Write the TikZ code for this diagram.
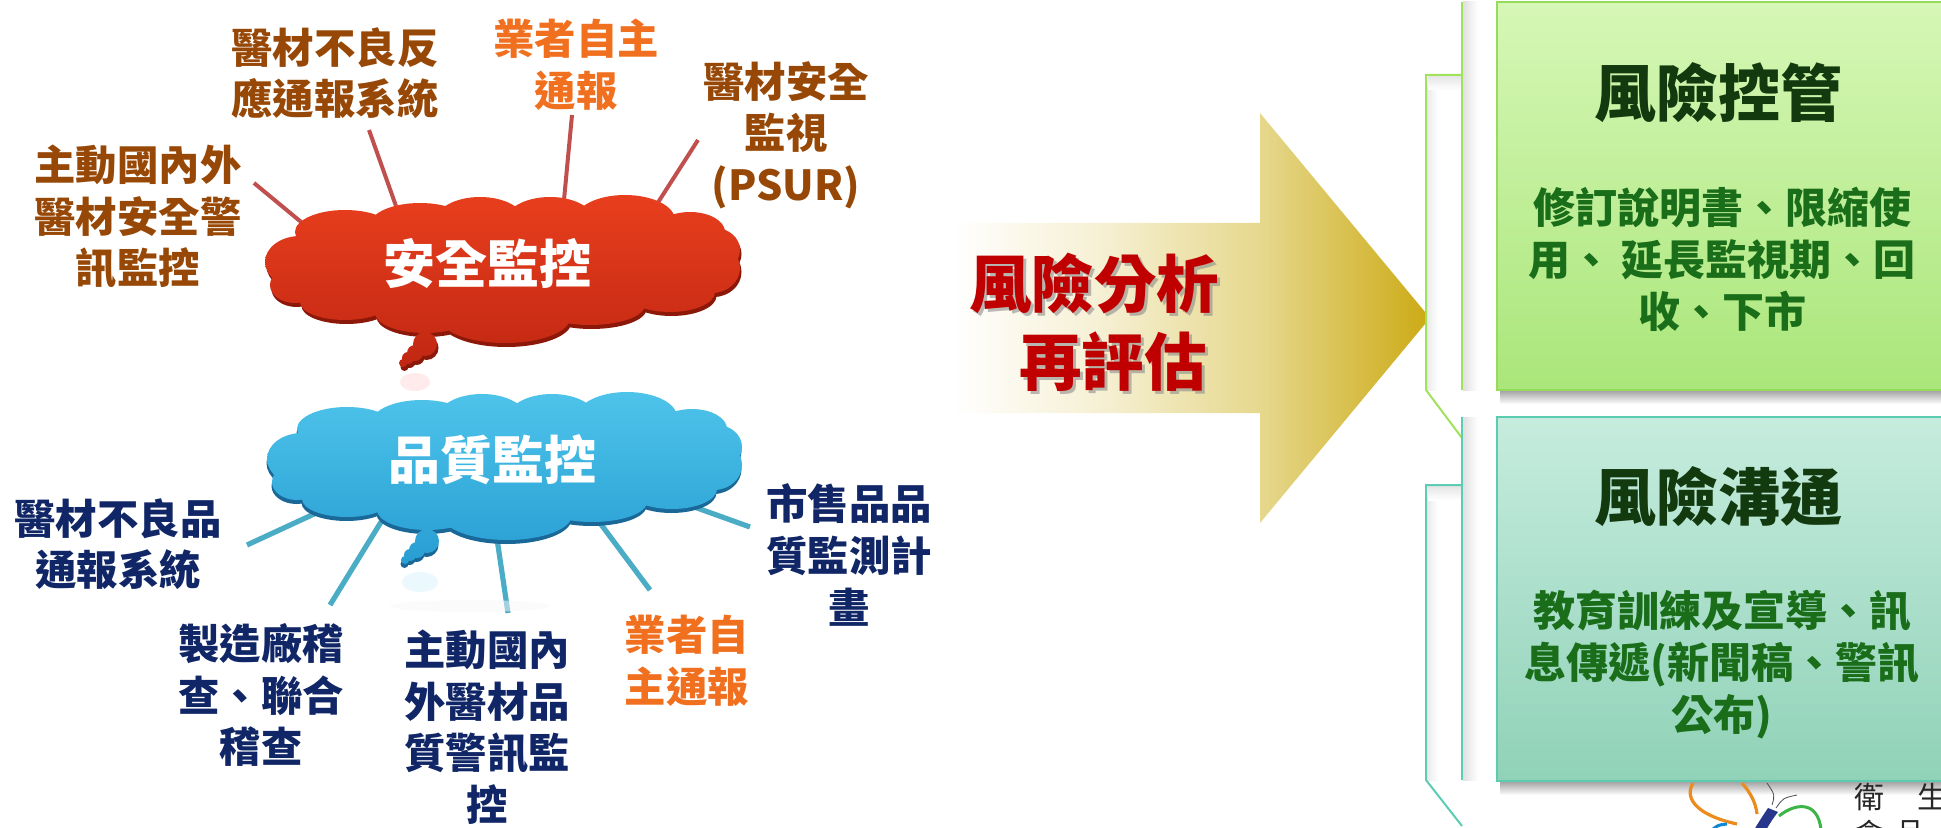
\documentclass[tikz,border=0pt]{standalone}
\usepackage{fontspec}
\setmainfont{Noto Sans CJK TC}
\usetikzlibrary{calc}

\definecolor{labelbrown}{RGB}{151,72,6}
\definecolor{labelorange}{RGB}{240,112,32}
\definecolor{labelnavy}{RGB}{16,38,102}
\definecolor{linkred}{RGB}{192,80,77}
\definecolor{linkblue}{RGB}{75,172,198}
\definecolor{cloudredtop}{RGB}{234,64,30}
\definecolor{cloudredbot}{RGB}{192,38,18}
\definecolor{cloudredrim}{RGB}{140,24,10}
\definecolor{cloudbluetop}{RGB}{80,198,236}
\definecolor{cloudbluebot}{RGB}{38,156,210}
\definecolor{cloudbluerim}{RGB}{26,104,152}
\definecolor{arrowcream}{RGB}{246,240,212}
\definecolor{arrowbeige}{RGB}{230,216,142}
\definecolor{arrowgold}{RGB}{204,170,20}
\definecolor{arrowred}{RGB}{192,0,0}
\definecolor{boxgreentop}{RGB}{214,247,182}
\definecolor{boxgreenbot}{RGB}{170,230,122}
\definecolor{boxgreenedge}{RGB}{150,220,90}
\definecolor{boxtealtop}{RGB}{198,236,222}
\definecolor{boxtealbot}{RGB}{144,210,184}
\definecolor{boxtealedge}{RGB}{92,204,176}
\definecolor{titlegreen}{RGB}{18,58,14}
\definecolor{bodygreen}{RGB}{26,110,26}
\definecolor{bracketgreen}{RGB}{160,226,90}
\definecolor{bracketteal}{RGB}{92,204,180}
\definecolor{logoorange}{RGB}{235,140,30}
\definecolor{logogreen}{RGB}{60,180,70}
\definecolor{logoblue}{RGB}{40,55,140}

% horizontal gradient of the big arrow: white shaft fading into gold tip
\pgfdeclarehorizontalshading{goldarrow}{100bp}{color(0bp)=(white); color(25bp)=(white); color(33bp)=(white); color(46bp)=(arrowcream); color(60bp)=(arrowbeige); color(75bp)=(arrowgold); color(100bp)=(arrowgold)}

% puffs that together make one cloud outline
\def\cloudpuffs{%
 (500,268) ellipse [x radius=200, y radius=58]
 (300,262) ellipse [x radius=35, y radius=26]
 (295,285) ellipse [x radius=25, y radius=18]
 (345,302) ellipse [x radius=45, y radius=18]
 (425,313) ellipse [x radius=50, y radius=20]
 (505,318) ellipse [x radius=65, y radius=25]
 (590,305) ellipse [x radius=55, y radius=20]
 (670,292) ellipse [x radius=45, y radius=20]
 (712,268) ellipse [x radius=28, y radius=25]
 (715,250) ellipse [x radius=25, y radius=22]
 (690,232) ellipse [x radius=35, y radius=20]
 (625,220) ellipse [x radius=50, y radius=25]
 (550,222) ellipse [x radius=45, y radius=25]
 (480,222) ellipse [x radius=45, y radius=25]
 (420,225) ellipse [x radius=50, y radius=22]
 (345,232) ellipse [x radius=50, y radius=22]
}
% small bubbles trailing below a cloud
\def\cloudtail{%
 (425,344) circle [radius=12]
 (415,353) circle [radius=8]
 (408,358) circle [radius=6]
 (403,363) circle [radius=4]
}

\begin{document}
\begin{tikzpicture}[x=0.5pt,y=-0.5pt,
  lbl/.style={inner sep=0pt, align=center, font=\fontsize{20.7pt}{25.8pt}\selectfont\bfseries},
  brownlbl/.style={lbl, text=labelbrown},
  orangelbl/.style={lbl, text=labelorange},
  navylbl/.style={lbl, text=labelnavy},
  cloudtext/.style={inner sep=0pt, text=white, font=\fontsize{26pt}{30pt}\selectfont\bfseries},
  redlink/.style={draw=linkred, line width=2pt},
  bluelink/.style={draw=linkblue, line width=2.6pt},
  arrowtext/.style={inner sep=0pt, align=center, font=\fontsize{31.25pt}{39pt}\selectfont\bfseries},
  greenbox/.style={draw=boxgreenedge, line width=0.9pt, top color=boxgreentop, bottom color=boxgreenbot, minimum width=224pt, minimum height=194pt, inner sep=0pt},
  tealbox/.style={draw=boxtealedge, line width=0.9pt, top color=boxtealtop, bottom color=boxtealbot, minimum width=224pt, minimum height=182pt, inner sep=0pt},
  boxtitle/.style={inner sep=0pt, text=titlegreen, font=\fontsize{31pt}{36pt}\selectfont\bfseries},
  boxbody/.style={inner sep=0pt, align=center, text=bodygreen, font=\fontsize{21pt}{26pt}\selectfont\bfseries},
  bracketg/.style={draw=bracketgreen, line width=1pt},
  brackett/.style={draw=bracketteal, line width=1pt},
  logotext/.style={inner sep=0pt, text=black!85, font=\fontsize{15pt}{18pt}\selectfont}
]
\useasboundingbox (0,0) rectangle (1941,828);
\clip (0,0) rectangle (1941,828);

% ---------- connector end points ----------
\coordinate (r1a) at (254,183); \coordinate (r1b) at (318,236);
\coordinate (r2a) at (369,130); \coordinate (r2b) at (396,206);
\coordinate (r3a) at (572,115); \coordinate (r3b) at (564,200);
\coordinate (r4a) at (698,140); \coordinate (r4b) at (657,204);
\coordinate (b1a) at (247,545); \coordinate (b1b) at (327,508);
\coordinate (b2a) at (330,605); \coordinate (b2b) at (381,522);
\coordinate (b3a) at (508,613); \coordinate (b3b) at (496,532);
\coordinate (b4a) at (650,590); \coordinate (b4b) at (588,507);
\coordinate (b5a) at (750,527); \coordinate (b5b) at (672,499);

\draw[redlink] (r1a) -- (r1b);
\draw[redlink] (r2a) -- (r2b);
\draw[redlink] (r3a) -- (r3b);
\draw[redlink] (r4a) -- (r4b);
\draw[bluelink] (b1a) -- (b1b);
\draw[bluelink] (b2a) -- (b2b);
\draw[bluelink] (b3a) -- (b3b);
\draw[bluelink] (b4a) -- (b4b);
\draw[bluelink] (b5a) -- (b5b);

% ---------- faint reflections under the tails ----------
\fill[red!20, opacity=0.4] (415,382) ellipse [x radius=15, y radius=9];
\fill[cyan!20, opacity=0.4] (420,582) ellipse [x radius=18, y radius=10];
\fill[black!3, opacity=0.5] (470,606) ellipse [x radius=80, y radius=6];

% ---------- red cloud ----------
\begin{scope}[shift={(1.5,4)}]
  \fill[cloudredrim] \cloudpuffs;
  \fill[cloudredrim] \cloudtail;
\end{scope}
\begin{scope}
  \clip \cloudpuffs \cloudtail;
  \shade[top color=cloudredtop, bottom color=cloudredbot] (255,185) rectangle (750,372);
\end{scope}
\node[cloudtext] (safety) at (487,263) {安全監控};

% ---------- blue cloud ----------
\begin{scope}[shift={(1.5,201)}]
  \fill[cloudbluerim] \cloudpuffs;
  \fill[cloudbluerim] \cloudtail;
\end{scope}
\begin{scope}[shift={(2,197)}]
  \clip \cloudpuffs \cloudtail;
  \shade[top color=cloudbluetop, bottom color=cloudbluebot] (255,185) rectangle (750,372);
\end{scope}
\node[cloudtext] (quality) at (492,460) {品質監控};

% ---------- labels round the red cloud ----------
\node[brownlbl] (adverse) at (335,73) {醫材不良反\\應通報系統};
\node[orangelbl] (selfA) at (576,65) {業者自主\\通報};
\node[brownlbl] (psur) at (786,135) {醫材安全\\監視\\(PSUR)};
\node[brownlbl] (alertA) at (138,217) {主動國內外\\醫材安全警\\訊監控};

% ---------- labels round the blue cloud ----------
\node[navylbl] (defect) at (118,544) {醫材不良品\\通報系統};
\node[navylbl] (inspect) at (261,695) {製造廠稽\\查、聯合\\稽查};
\node[navylbl] (alertB) at (487,727) {主動國內\\外醫材品\\質警訊監\\控};
\node[orangelbl] (selfB) at (687,661) {業者自\\主通報};
\node[navylbl] (market) at (849,555) {市售品品\\質監測計\\畫};

% ---------- big arrow ----------
\shade[shading=goldarrow] (860,223) -- (1260,223) -- (1260,113) -- (1430,318)
  -- (1260,523) -- (1260,413) -- (860,413) -- cycle;
\node[arrowtext, text=black!45, opacity=0.6] (analysisshadow) at (1097,325) {風險分析\\\hspace*{19pt}再評估};
\node[arrowtext, text=arrowred] (analysis) at (1094,322) {風險分析\\\hspace*{19pt}再評估};

% ---------- brackets ----------
\shade[left color=black!12, right color=white] (1463,2) rectangle (1478,390);
\shade[left color=black!8, right color=white] (1427,88) rectangle (1438,390);
\shade[top color=black!10, bottom color=white] (1428,76) rectangle (1462,90);
\shade[left color=black!12, right color=white] (1463,417) rectangle (1478,780);
\shade[left color=black!8, right color=white] (1427,497) rectangle (1438,780);
\shade[top color=black!10, bottom color=white] (1428,486) rectangle (1462,500);

\coordinate (g1) at (1462,2);   \coordinate (g2) at (1462,390);
\coordinate (g3) at (1462,75);  \coordinate (g4) at (1426,75);
\coordinate (g5) at (1426,390); \coordinate (g6) at (1462,438);
\coordinate (t1) at (1462,417); \coordinate (t2) at (1462,780);
\coordinate (t3) at (1462,485); \coordinate (t4) at (1426,485);
\coordinate (t5) at (1426,780); \coordinate (t6) at (1462,826);
\draw[bracketg] (g1) -- (g2);
\draw[bracketg] (g3) -- (g4) -- (g5) -- (g6);
\draw[brackett] (t1) -- (t2);
\draw[brackett] (t3) -- (t4) -- (t5) -- (t6);

% ---------- result boxes ----------
\shade[top color=black!35, bottom color=white] (1500,391) rectangle (1941,404);
\shade[top color=black!35, bottom color=white] (1500,782) rectangle (1941,795);
\node[greenbox] (control) at (1721,196) {};
\node[tealbox] (comm) at (1721,599) {};
\node[boxtitle] (controltitle) at (1718,93) {風險控管};
\node[boxbody] (controlbody) at (1722,259) {修訂說明書、限縮使\\用、 延長監視期、回\\收、下市};
\node[boxtitle] (commtitle) at (1718,497) {風險溝通};
\node[boxbody] (commbody) at (1722,665) {教育訓練及宣導、訊\\息傳遞(新聞稿、警訊\\公布)};

% ---------- agency logo, partly visible ----------
\draw[logoorange, line width=1.6pt] (1693,783) .. controls (1683,800) and (1700,816) .. (1737,824);
\draw[logoorange, line width=1.6pt] (1742,783) .. controls (1750,792) and (1756,803) .. (1757,814);
\draw[logogreen, line width=1.5pt] (1779,816) .. controls (1795,803) and (1818,800) .. (1821,830);
\fill[logoblue] (1768,808) -- (1778,812) .. controls (1772,820) .. (1766,830) -- (1754,830) .. controls (1760,820) .. (1768,808) -- cycle;
\draw[black!70, line width=0.4pt] (1772,805) .. controls (1775,795) .. (1767,783);
\draw[black!70, line width=0.4pt] (1776,808) .. controls (1783,798) .. (1797,795);
\draw[cyan!70!blue, line width=1.5pt] (1712,830) .. controls (1718,825) .. (1727,824);
\node[logotext] (logo1) at (1869,797) {衛};
\node[logotext] (logo2) at (1932,797) {生};
\node[logotext] (logo3) at (1869,834) {食};
\node[logotext] (logo4) at (1910,834) {品};
\end{tikzpicture}
\end{document}
